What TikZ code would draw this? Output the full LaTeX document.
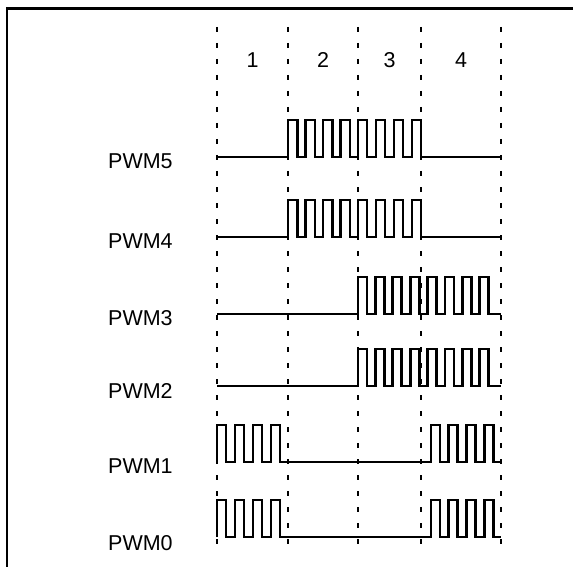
\documentclass[tikz,border=0pt]{standalone}
\usepackage{fontspec}
\setmainfont{Liberation Sans}
\begin{document}
\begin{tikzpicture}[x=1pt, y=-1pt, line join=miter]
\tikzset{
  sig/.style={line width=2.8pt},
  slotline/.style={line width=2.4pt, dash pattern=on 5pt off 11pt},
  lbl/.style={font=\fontsize{21.5}{24}\selectfont, anchor=west, inner sep=0pt},
  num/.style={font=\fontsize{21.5}{24}\selectfont, inner sep=0pt},
}
\useasboundingbox (0,0) rectangle (573,567);

% Frame
\draw[line width=2.8pt] (7,567) -- (7,8.5) -- (573,8.5);

% Time slots
\foreach \x in {217,288,358,421,501}
  \draw[slotline] (\x,27) -- (\x,546);
\node[num] (slot1) at (252.5,60) {1};
\node[num] (slot2) at (323,60) {2};
\node[num] (slot3) at (389.5,60) {3};
\node[num] (slot4) at (461,60) {4};

% Labels
\node[lbl] (pwm5) at (108,161) {PWM5};
\node[lbl] (pwm4) at (108,241) {PWM4};
\node[lbl] (pwm3) at (108,318) {PWM3};
\node[lbl] (pwm2) at (108,391) {PWM2};
\node[lbl] (pwm1) at (108,466) {PWM1};
\node[lbl] (pwm0) at (108,543) {PWM0};

% PWM5 and PWM4
\foreach \lo in {157,237}
  \draw[sig] (217,\lo) -- (288,\lo)
    \foreach \k in {1,...,4} { -- ++(0,-37) -- ++(9.5,0) -- ++(0,37) -- ++(8,0) }
    \foreach \k in {1,...,3} { -- ++(0,-37) -- ++(9,0) -- ++(0,37) -- ++(9,0) }
    -- ++(0,-37) -- ++(9,0) -- ++(0,37) -- (501,\lo);

% PWM3 and PWM2
\foreach \lo in {314,386}
  \draw[sig] (217,\lo) -- (358,\lo)
    \foreach \k in {1,...,8} { -- ++(0,-37) -- ++(9,0) -- ++(0,37) -- ++(8.4,0) }
    -- (501,\lo);

% PWM1 and PWM0
\foreach \lo in {462,537}
  \draw[sig] (217,\lo)
    \foreach \k in {1,...,3} { -- ++(0,-37) -- ++(9,0) -- ++(0,37) -- ++(9,0) }
    -- ++(0,-37) -- ++(9,0) -- ++(0,37) -- (431,\lo)
    \foreach \k in {1,...,3} { -- ++(0,-37) -- ++(9,0) -- ++(0,37) -- ++(8.7,0) }
    -- ++(0,-37) -- ++(9,0) -- ++(0,37) -- (501,\lo);
\end{tikzpicture}
\end{document}
